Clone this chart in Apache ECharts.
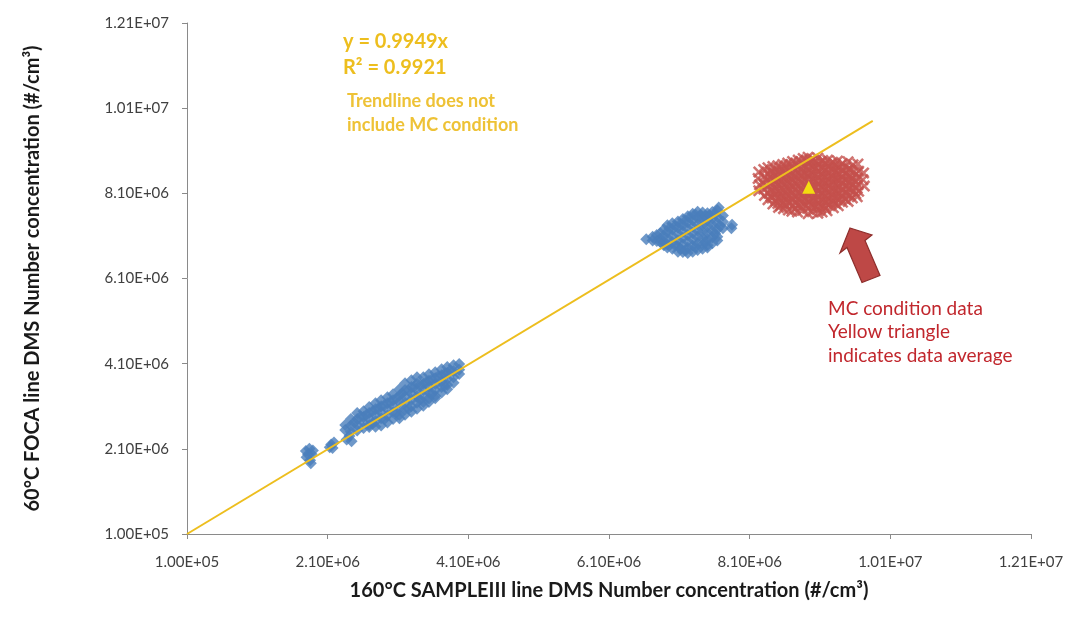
<!DOCTYPE html>
<html><head><meta charset="utf-8">
<script src="https://cdn.jsdelivr.net/npm/echarts@6/dist/echarts.min.js"></script>
<style>html,body{margin:0;padding:0;background:#fff}#c{width:1073px;height:619px}</style>
</head><body><div id="c"></div><script>
// values are in units of 1e6 #/cm3 (multiplied by UNIT when the option is built)
const UNIT = 1e6;
const tickValues = [0.1, 2.1, 4.1, 6.1, 8.1, 10.1, 12.1];
const tickLabels = ['1.00E+05','2.10E+06','4.10E+06','6.10E+06','8.10E+06','1.01E+07','1.21E+07'];

// blue diamonds: baseline conditions, lower group
const baselineLow = [
 [1.79,2.05],[1.84,2.10],[1.87,1.98],[1.80,1.90],[1.85,1.83],[1.89,2.06],[1.82,1.97],[1.86,1.76],
 [2.15,2.20],[2.19,2.25],[2.17,2.12],[2.13,2.14],
 [2.37,2.32],[2.44,2.28],[2.41,2.40],
 [2.35,2.66],[2.35,2.54],
 [2.43,2.80],[2.43,2.65],[2.43,2.50],
 [2.52,2.94],[2.52,2.80],[2.52,2.66],[2.52,2.53],
 [2.61,2.98],[2.61,2.85],[2.61,2.72],[2.61,2.59],
 [2.69,3.08],[2.69,2.94],[2.69,2.80],[2.69,2.66],[2.69,2.61],
 [2.78,3.17],[2.78,3.03],[2.78,2.89],[2.78,2.75],[2.78,2.62],
 [2.86,3.24],[2.86,3.10],[2.86,2.96],[2.86,2.82],[2.86,2.65],
 [2.95,3.31],[2.95,3.17],[2.95,3.03],[2.95,2.88],[2.95,2.72],
 [3.03,3.38],[3.03,3.24],[3.03,3.10],[3.03,2.96],[3.03,2.80],
 [3.12,3.50],[3.12,3.35],[3.12,3.20],[3.12,3.05],[3.12,2.90],[3.12,2.82],
 [3.20,3.64],[3.20,3.48],[3.20,3.33],[3.20,3.18],[3.20,3.03],[3.20,2.90],
 [3.29,3.71],[3.29,3.55],[3.29,3.40],[3.29,3.25],[3.29,3.10],[3.29,2.97],
 [3.37,3.78],[3.37,3.63],[3.37,3.48],[3.37,3.33],[3.37,3.18],[3.37,3.04],
 [3.46,3.78],[3.46,3.63],[3.46,3.48],[3.46,3.34],[3.46,3.20],[3.46,3.11],
 [3.54,3.85],[3.54,3.70],[3.54,3.56],[3.54,3.42],[3.54,3.28],[3.54,3.20],
 [3.63,3.90],[3.63,3.76],[3.63,3.62],[3.63,3.48],[3.63,3.34],[3.63,3.29],
 [3.72,3.97],[3.72,3.83],[3.72,3.69],[3.72,3.55],[3.72,3.42],
 [3.80,4.02],[3.80,3.88],[3.80,3.74],[3.80,3.60],[3.80,3.50],
 [3.89,4.06],[3.89,3.92],[3.89,3.78],[3.89,3.65],
 [3.97,4.09],[3.97,3.96],[3.97,3.86],
 [2.48,2.72],[2.57,2.86],[2.65,2.90],[2.74,2.98],[2.82,3.05],[2.90,3.12],[2.99,3.20],
 [3.08,3.28],[3.16,3.40],[3.25,3.47],[3.33,3.56],[3.42,3.60],[3.50,3.66],[3.58,3.72],
 [3.67,3.80],[3.76,3.86],[3.84,3.94],[2.74,2.70],[2.91,2.80],[3.07,2.95],[3.25,3.05],
 [3.41,3.25],[3.58,3.40],[3.76,3.58]
];
// blue diamonds: baseline conditions, upper group
const baselineHigh = [
 [6.63,7.02],
 [6.72,7.08],[6.72,6.99],
 [6.78,7.12],[6.78,6.98],
 [6.83,7.16],[6.83,7.03],[6.83,6.96],
 [6.88,7.25],[6.88,7.10],[6.88,6.95],[6.88,6.88],
 [6.93,7.35],[6.93,7.20],[6.93,7.05],[6.93,6.90],[6.93,6.83],
 [7.00,7.40],[7.00,7.25],[7.00,7.10],[7.00,6.95],[7.00,6.80],
 [7.08,7.44],[7.08,7.30],[7.08,7.15],[7.08,7.00],[7.08,6.86],[7.08,6.73],
 [7.15,7.50],[7.15,7.35],[7.15,7.20],[7.15,7.05],[7.15,6.90],[7.15,6.72],
 [7.22,7.56],[7.22,7.42],[7.22,7.27],[7.22,7.12],[7.22,6.97],[7.22,6.82],[7.22,6.70],
 [7.29,7.62],[7.29,7.47],[7.29,7.32],[7.29,7.17],[7.29,7.02],[7.29,6.87],[7.29,6.73],
 [7.36,7.67],[7.36,7.52],[7.36,7.37],[7.36,7.22],[7.36,7.07],[7.36,6.92],[7.36,6.77],
 [7.43,7.65],[7.43,7.50],[7.43,7.35],[7.43,7.20],[7.43,7.05],[7.43,6.90],[7.43,6.80],
 [7.50,7.63],[7.50,7.48],[7.50,7.33],[7.50,7.18],[7.50,7.03],[7.50,6.88],[7.50,6.83],
 [7.57,7.66],[7.57,7.51],[7.57,7.36],[7.57,7.21],[7.57,7.06],[7.57,6.93],
 [7.64,7.70],[7.64,7.55],[7.64,7.40],[7.64,7.25],[7.64,7.08],[7.64,6.99],
 [7.66,7.77],
 [7.72,7.58],[7.72,7.43],[7.72,7.28],
 [7.85,7.36],[7.84,7.28],
 [6.96,7.28],[7.04,7.33],[7.12,7.38],[7.19,7.46],[7.26,7.54],[7.33,7.60],[7.40,7.58],
 [7.47,7.56],[7.54,7.58],[7.61,7.62],[7.04,6.88],[7.12,6.80],[7.19,6.76],[7.33,6.84],
 [7.47,6.95],[7.61,7.15],[7.68,7.33]
];
// red crosses: MC condition data
const mcCondition = [
 [8.23,8.60],[8.22,8.45],[8.24,8.30],[8.23,8.16],
 [8.30,8.66],[8.31,8.50],[8.29,8.35],[8.30,8.20],[8.31,8.05],
 [8.36,8.70],[8.37,8.55],[8.35,8.41],[8.36,8.26],[8.37,8.10],[8.36,7.95],
 [8.43,8.73],[8.44,8.58],[8.42,8.44],[8.43,8.29],[8.44,8.14],[8.42,7.99],[8.43,7.85],
 [8.50,8.75],[8.51,8.60],[8.49,8.46],[8.50,8.31],[8.51,8.15],[8.49,8.00],[8.50,7.86],[8.51,7.77],
 [8.57,8.78],[8.58,8.63],[8.56,8.49],[8.57,8.34],[8.58,8.18],[8.56,8.03],[8.57,7.88],[8.58,7.74],
 [8.64,8.81],[8.65,8.66],[8.63,8.52],[8.64,8.37],[8.65,8.21],[8.63,8.06],[8.64,7.91],[8.65,7.71],
 [8.71,8.85],[8.72,8.70],[8.70,8.55],[8.71,8.40],[8.72,8.25],[8.70,8.10],[8.71,7.95],[8.72,7.80],[8.70,7.68],
 [8.79,8.88],[8.80,8.73],[8.78,8.58],[8.79,8.43],[8.80,8.27],[8.78,8.12],[8.79,7.97],[8.80,7.82],[8.78,7.66],
 [8.86,8.92],[8.87,8.76],[8.85,8.61],[8.86,8.46],[8.87,8.31],[8.85,8.16],[8.86,8.01],[8.87,7.86],[8.85,7.70],
 [8.93,8.95],[8.94,8.80],[8.92,8.65],[8.93,8.50],[8.94,8.35],[8.92,8.20],[8.93,8.05],[8.94,7.90],[8.92,7.75],[8.93,7.62],
 [9.00,8.90],[9.01,8.74],[8.99,8.59],[9.00,8.44],[9.01,8.28],[8.99,8.13],[9.00,7.98],[9.01,7.83],[8.99,7.67],
 [9.07,8.93],[9.08,8.78],[9.06,8.62],[9.07,8.47],[9.08,8.32],[9.06,8.17],[9.07,8.02],[9.08,7.87],[9.06,7.72],[9.07,7.63],
 [9.14,8.87],[9.15,8.71],[9.13,8.55],[9.14,8.40],[9.15,8.25],[9.13,8.10],[9.14,7.95],[9.15,7.80],[9.13,7.66],
 [9.21,8.88],[9.22,8.73],[9.20,8.58],[9.21,8.43],[9.22,8.28],[9.20,8.13],[9.21,7.98],[9.22,7.83],[9.20,7.69],
 [9.28,8.83],[9.29,8.67],[9.27,8.51],[9.28,8.36],[9.29,8.21],[9.27,8.06],[9.28,7.91],[9.29,7.76],
 [9.35,8.86],[9.36,8.70],[9.34,8.55],[9.35,8.40],[9.36,8.25],[9.34,8.10],[9.35,7.95],[9.36,7.81],
 [9.42,8.80],[9.43,8.64],[9.41,8.49],[9.42,8.34],[9.43,8.19],[9.41,8.04],[9.42,7.89],
 [9.50,8.84],[9.51,8.68],[9.49,8.52],[9.50,8.37],[9.51,8.22],[9.49,8.07],[9.50,7.91],
 [9.57,8.77],[9.58,8.61],[9.56,8.45],[9.57,8.30],[9.58,8.15],[9.56,7.99],
 [9.64,8.79],[9.65,8.62],[9.63,8.46],[9.64,8.30],[9.65,8.15],[9.63,8.02],
 [9.72,8.58],[9.71,8.42],[9.73,8.27],
 [8.40,8.62],[8.40,8.48],[8.40,8.33],[8.40,8.18],[8.40,8.03],
 [8.47,8.66],[8.47,8.52],[8.47,8.37],[8.47,8.22],[8.47,8.07],[8.47,7.92],
 [8.54,8.70],[8.54,8.55],[8.54,8.40],[8.54,8.25],[8.54,8.10],[8.54,7.95],[8.54,7.81],
 [8.61,8.73],[8.61,8.58],[8.61,8.44],[8.61,8.29],[8.61,8.13],[8.61,7.98],[8.61,7.83],
 [8.68,8.77],[8.68,8.62],[8.68,8.47],[8.68,8.32],[8.68,8.17],[8.68,8.02],[8.68,7.87],
 [8.75,8.80],[8.75,8.65],[8.75,8.50],[8.75,8.35],[8.75,8.20],[8.75,8.04],[8.75,7.89],[8.75,7.74],
 [8.83,8.84],[8.83,8.68],[8.83,8.53],[8.83,8.38],[8.83,8.23],[8.83,8.08],[8.83,7.93],[8.83,7.78],
 [8.90,8.87],[8.90,8.72],[8.90,8.57],[8.90,8.42],[8.90,8.27],[8.90,8.12],[8.90,7.97],[8.90,7.82],
 [8.97,8.86],[8.97,8.70],[8.97,8.55],[8.97,8.40],[8.97,8.25],[8.97,8.10],[8.97,7.95],[8.97,7.80],
 [9.04,8.85],[9.04,8.69],[9.04,8.54],[9.04,8.39],[9.04,8.24],[9.04,8.09],[9.04,7.94],[9.04,7.79],
 [9.11,8.84],[9.11,8.68],[9.11,8.53],[9.11,8.38],[9.11,8.23],[9.11,8.08],[9.11,7.93],[9.11,7.76],
 [9.18,8.80],[9.18,8.65],[9.18,8.50],[9.18,8.35],[9.18,8.20],[9.18,8.05],[9.18,7.90],[9.18,7.75],
 [9.25,8.79],[9.25,8.63],[9.25,8.47],[9.25,8.32],[9.25,8.17],[9.25,8.02],[9.25,7.87],
 [9.32,8.77],[9.32,8.61],[9.32,8.46],[9.32,8.31],[9.32,8.16],[9.32,8.01],[9.32,7.86],
 [9.39,8.75],[9.39,8.58],[9.39,8.43],[9.39,8.28],[9.39,8.13],[9.39,7.98],
 [9.46,8.72],[9.46,8.56],[9.46,8.41],[9.46,8.26],[9.46,8.11],[9.46,7.96],
 [9.53,8.66],[9.53,8.50],[9.53,8.35],[9.53,8.20],[9.53,8.05],
 [9.61,8.55],[9.61,8.39],[9.61,8.24],[9.61,8.09]
];
const mcAverage = [[8.94, 8.24]];
const trendline = [[0.1, 0.1], [9.85, 9.80]];

const scale = arr => arr.map(p => [p[0] * UNIT, p[1] * UNIT]);
const tickAbs = tickValues.map(v => v * UNIT);
function fmt(v) {
  for (let i = 0; i < tickAbs.length; i++) if (Math.abs(v - tickAbs[i]) < 1) return tickLabels[i];
  return '';
}
const FONT = 'Lato, "Open Sans", sans-serif';
const GOLD = '#EDBE1E';
const RED = '#C1272D';
const crossPath = 'path://M0,1.8L1.8,0L6,4.2L10.2,0L12,1.8L7.8,6L12,10.2L10.2,12L6,7.8L1.8,12L0,10.2L4.2,6Z';

function axis(name, gap, margin) {
  return {
    type: 'value', min: tickAbs[0], max: tickAbs[tickAbs.length - 1],
    name: name, nameLocation: 'middle', nameGap: gap,
    nameTextStyle: { fontFamily: FONT, fontWeight: 'bold', fontSize: 20, color: '#1a1a1a' },
    axisLine: { show: true, lineStyle: { color: '#8a8a8a', width: 1 } },
    axisTick: { show: true, inside: false, length: 5, customValues: tickAbs, lineStyle: { color: '#8a8a8a' } },
    axisLabel: { customValues: tickAbs, formatter: fmt, margin: margin, fontFamily: FONT, fontSize: 15, color: '#404040', showMinLabel: true, showMaxLabel: true },
    splitLine: { show: false }
  };
}

const chart = echarts.init(document.getElementById('c'), null, { renderer: 'canvas' });
chart.setOption({
  animation: false,
  backgroundColor: '#ffffff',
  grid: { left: 187, top: 23, right: 42, bottom: 85, containLabel: false },
  xAxis: axis('160°C SAMPLEIII line DMS Number concentration (#/cm³)', 47, 21),
  yAxis: axis('60°C FOCA line DMS Number concentration (#/cm³)', 144, 18),
  series: [
    { type: 'scatter', data: scale(baselineLow), symbol: 'diamond', symbolSize: 12, itemStyle: { color: '#4A7EBB' }, z: 2 },
    { type: 'scatter', data: scale(baselineHigh), symbol: 'diamond', symbolSize: 12, itemStyle: { color: '#4A7EBB' }, z: 2 },
    { type: 'scatter', data: scale(mcCondition), symbol: crossPath, symbolSize: 12, itemStyle: { color: '#C4504C' }, z: 2 },
    { type: 'line', data: scale(trendline), showSymbol: false, symbol: 'none', lineStyle: { color: GOLD, width: 2 }, z: 3 },
    { type: 'scatter', data: scale(mcAverage), symbol: 'triangle', symbolSize: 13, itemStyle: { color: '#FFFF00' }, z: 4 }
  ],
  graphic: [
    { type: 'text', left: 343, top: 32, style: { text: 'y = 0.9949x', fill: GOLD, font: 'bold 20px ' + FONT } },
    { type: 'text', left: 343, top: 58, style: { text: 'R² = 0.9921', fill: GOLD, font: 'bold 20px ' + FONT } },
    { type: 'text', left: 347, top: 89, style: { text: 'Trendline does not\ninclude MC condition', fill: '#EEC236', font: 'bold 18px ' + FONT, lineHeight: 24 } },
    { type: 'text', left: 828, top: 297, style: { text: 'MC condition data\nYellow triangle\nindicates data average', fill: RED, font: '19px ' + FONT, lineHeight: 23.5 } },
    { type: 'polygon', shape: { points: [[850,228],[872,235],[865,240.5],[880,275.5],[862,282.5],[847,247.5],[840,253]] },
      style: { fill: '#BE4846', stroke: '#8E2E2C', lineWidth: 1.2 } }
  ]
});
</script></body></html>
